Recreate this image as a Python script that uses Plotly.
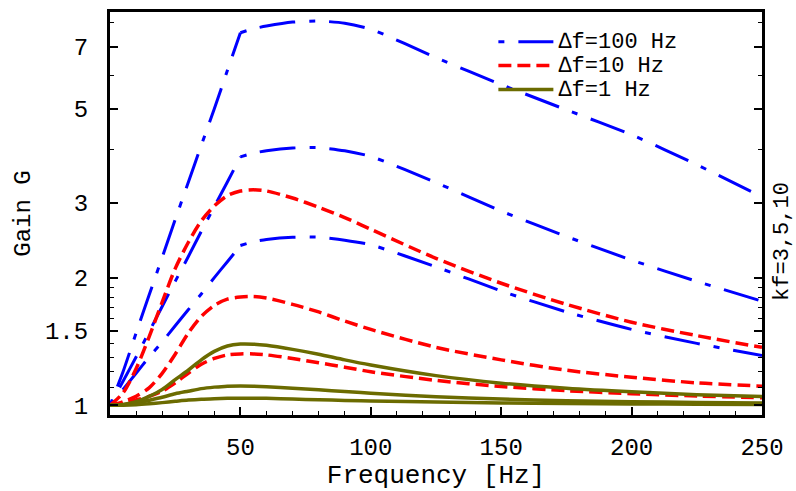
import plotly.graph_objects as go

# Frequency grid [Hz]
freq = [0, 5, 10, 15, 20, 25, 30, 35, 40, 45, 50, 55, 60, 70, 80, 90, 100, 125, 150, 175, 200, 225, 250]

# Delta f = 100 Hz (blue, dash-dot), kf = 10, 5, 3
g100_kf10 = [1.0, 1.2, 1.48, 1.82, 2.23, 2.74, 3.35, 4.1, 5.0, 6.15, 7.55, 7.72, 7.83, 8.0, 8.05, 7.95, 7.7, 6.6, 5.7, 4.97, 4.34, 3.69, 3.1]
g100_kf5 = [1.0, 1.14, 1.3, 1.49, 1.71, 1.96, 2.24, 2.57, 2.94, 3.36, 3.85, 3.93, 3.98, 4.04, 4.05, 3.98, 3.86, 3.35, 2.87, 2.5, 2.2, 1.96, 1.76]
g100_kf3 = [1.0, 1.09, 1.19, 1.3, 1.41, 1.54, 1.68, 1.83, 2.0, 2.18, 2.38, 2.43, 2.46, 2.49, 2.49, 2.45, 2.39, 2.12, 1.86, 1.66, 1.51, 1.4, 1.31]

# Delta f = 10 Hz (red, dashed)
g10_kf10 = [1.0, 1.07, 1.22, 1.45, 1.75, 2.1, 2.42, 2.72, 2.95, 3.12, 3.2, 3.22, 3.2, 3.08, 2.93, 2.77, 2.6, 2.22, 1.94, 1.73, 1.57, 1.46, 1.37]
g10_kf5 = [1.0, 1.02, 1.05, 1.1, 1.19, 1.32, 1.48, 1.62, 1.72, 1.78, 1.8, 1.805, 1.79, 1.73, 1.66, 1.58, 1.51, 1.37, 1.28, 1.21, 1.165, 1.13, 1.11]
g10_kf3 = [1.0, 1.01, 1.03, 1.05, 1.08, 1.13, 1.19, 1.25, 1.29, 1.315, 1.322, 1.322, 1.315, 1.29, 1.26, 1.23, 1.2, 1.145, 1.108, 1.083, 1.065, 1.052, 1.042]

# Delta f = 1 Hz (olive, solid)
g1_kf10 = [1.0, 1.005, 1.02, 1.05, 1.09, 1.15, 1.21, 1.28, 1.34, 1.38, 1.395, 1.394, 1.385, 1.355, 1.32, 1.28, 1.245, 1.175, 1.128, 1.097, 1.076, 1.06, 1.049]
g1_kf5 = [1.0, 1.004, 1.012, 1.028, 1.045, 1.065, 1.08, 1.095, 1.104, 1.11, 1.111, 1.11, 1.107, 1.098, 1.088, 1.078, 1.068, 1.048, 1.035, 1.026, 1.02, 1.016, 1.013]
g1_kf3 = [1.0, 1.001, 1.004, 1.009, 1.015, 1.022, 1.029, 1.034, 1.037, 1.039, 1.04, 1.04, 1.039, 1.035, 1.031, 1.027, 1.024, 1.018, 1.013, 1.01, 1.008, 1.006, 1.005]

x_ticks = [50, 100, 150, 200, 250]
y_ticks = [1, 1.5, 2, 3, 5, 7]
y_ticklabels = ["1", "1.5", "2", "3", "5", "7"]
y_minor = [1.1, 1.2, 1.3, 1.4, 1.6, 1.7, 1.8, 1.9, 4, 6, 8]

FONT = "Liberation Mono, Courier New, monospace"
BLUE = "#0000ff"
RED = "#ff0000"
OLIVE = "#6b6b00"


def legend_name(s):
    return '<span style="font-size:22px">' + s + '</span>'


fig = go.Figure()

k = freq.index(50)
blue_dash = "6px,14px,36px,14px"
first = True
for g in [g100_kf10, g100_kf5, g100_kf3]:
    for xs, ys in [(freq[:k + 1], g[:k + 1]), (freq[k:], g[k:])]:
        fig.add_trace(go.Scatter(
            x=xs, y=ys, mode="lines", line=dict(color=BLUE, width=3, dash=blue_dash, shape="spline", smoothing=0.6),
            name=legend_name("\u2206f=100 Hz"), legendgroup="b", showlegend=first))
        first = False

for i, g in enumerate([g10_kf10, g10_kf5, g10_kf3]):
    fig.add_trace(go.Scatter(
        x=freq, y=g, mode="lines", line=dict(color=RED, width=3.5, dash="13px,6px", shape="spline", smoothing=0.8),
        name=legend_name("\u2206f=10 Hz"), legendgroup="r", showlegend=(i == 0)))

for i, g in enumerate([g1_kf10, g1_kf5, g1_kf3]):
    fig.add_trace(go.Scatter(
        x=freq, y=g, mode="lines", line=dict(color=OLIVE, width=3.5, shape="spline", smoothing=0.8),
        name=legend_name("\u2206f=1 Hz"), legendgroup="o", showlegend=(i == 0)))

fig.update_layout(
    width=796, height=491,
    margin=dict(l=110, r=34, t=12, b=76, autoexpand=False),
    paper_bgcolor="white", plot_bgcolor="white",
    font=dict(family=FONT, size=24, color="black"),
    showlegend=True,
    legend=dict(x=0.588, y=0.968, xanchor="left", yanchor="top", bgcolor="rgba(0,0,0,0)",
                font=dict(family=FONT, size=16, color="black"), itemwidth=55, tracegroupgap=0),
    xaxis=dict(
        range=[0, 250], tickvals=x_ticks, ticks="inside", ticklen=8, tickwidth=1.5, tickcolor="black",
        showline=True, linecolor="black", linewidth=3, mirror=True, showgrid=False, zeroline=False,
        automargin=False,
        tickfont=dict(family=FONT, size=24), ticklabelstandoff=8,
        minor=dict(dtick=10, ticks="inside", ticklen=4, tickwidth=1, tickcolor="black", showgrid=False),
        title=dict(text="Frequency [Hz]", font=dict(family=FONT, size=26), standoff=8),
    ),
    yaxis=dict(
        type="log", range=[-0.0227, 0.9269], tickmode="array", tickvals=y_ticks, ticktext=y_ticklabels,
        ticks="inside", ticklen=8, tickwidth=1.5, tickcolor="black",
        showline=True, linecolor="black", linewidth=3, mirror="ticks", showgrid=False, zeroline=False,
        automargin=False,
        tickfont=dict(family=FONT, size=24), ticklabelstandoff=14,
        minor=dict(tickmode="array", tickvals=y_minor, ticks="inside", ticklen=4, tickwidth=1, tickcolor="black", showgrid=False),
        title=dict(text="Gain G", font=dict(family=FONT, size=24), standoff=8),
    ),
    annotations=[dict(text="kf=3,5,10", xref="paper", yref="paper", x=1.031, y=0.43, xanchor="center", yanchor="middle",
                      textangle=-90, showarrow=False, font=dict(family=FONT, size=22, color="black"))],
)

fig.write_html("out.html", config={"displayModeBar": False},
               post_script="document.body.style.margin='0px';")
